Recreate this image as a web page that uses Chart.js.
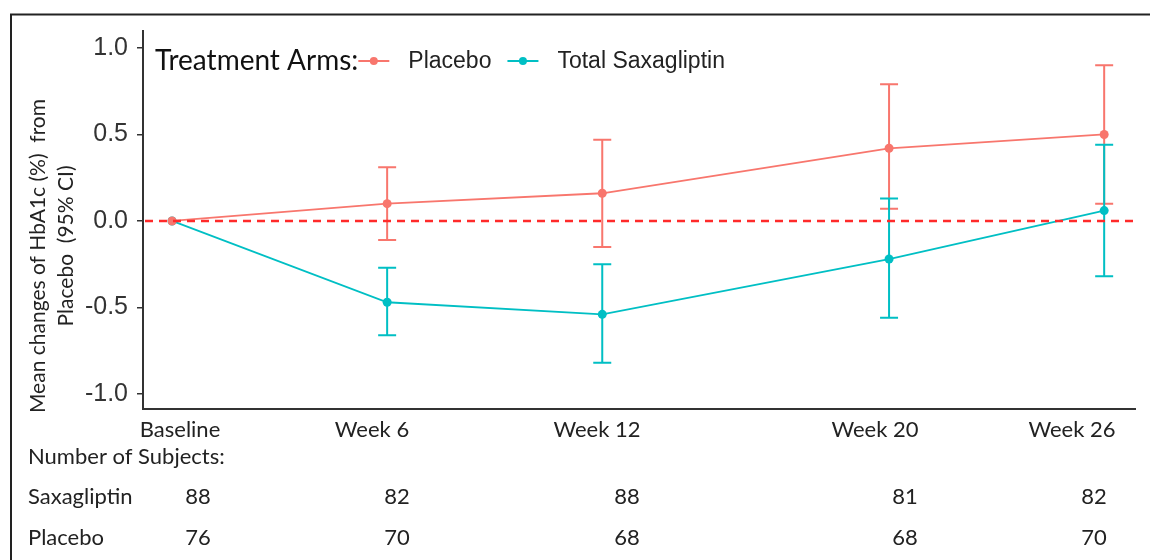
<!DOCTYPE html>
<html>
<head>
<meta charset="utf-8">
<script src="https://cdn.jsdelivr.net/npm/chart.js@4.4.1/dist/chart.umd.min.js"></script>
<style>
  html, body { margin: 0; padding: 0; background: #fff; }
  #wrap { width: 1162px; height: 560px; position: relative; }
</style>
</head>
<body>
<div id="wrap"><canvas id="hba1cChart"></canvas></div>
<script>
// --- data ---
const weeks = [0, 6, 12, 20, 26];
const weekLabels = ['Baseline', 'Week 6', 'Week 12', 'Week 20', 'Week 26'];

const placeboMean  = [0, 0.10, 0.16, 0.42, 0.50];
const placeboLower = [null, -0.11, -0.15, 0.07, 0.10];
const placeboUpper = [null, 0.31, 0.47, 0.79, 0.90];

const saxaMean  = [0, -0.47, -0.54, -0.22, 0.06];
const saxaLower = [null, -0.66, -0.82, -0.56, -0.32];
const saxaUpper = [null, -0.27, -0.25, 0.13, 0.44];

const saxaN    = [88, 82, 88, 81, 82];
const placeboN = [76, 70, 68, 68, 70];

const yTicks = [-1, -0.5, 0, 0.5, 1];
const yTitle = ['Mean changes of HbA1c (%)  from', 'Placebo  (95% CI)'];

const RED = '#F8766D';
const CYAN = '#00BFC4';
const CALIBRI = 'Lato, "Open Sans", sans-serif';
const ARIAL = '"Liberation Sans", Arial, sans-serif';

// --- layout (pixels) for texts outside the plot ---
const labelCols = [180, 372, 597, 875, 1072];
const numberCols = [198, 397, 627, 905, 1094];
const titlePos = [{ x: 38, y: 256 }, { x: 66, y: 246 }];

const toPoints = vals => weeks.map((w, i) => ({ x: w, y: vals[i] }));

// error bars from the scales
const errorBars = {
  id: 'errorBars',
  beforeDatasetsDraw(chart) {
    const { ctx, scales: { x, y } } = chart;
    chart.data.datasets.forEach(ds => {
      ctx.save();
      ctx.strokeStyle = ds.borderColor;
      ctx.lineWidth = 2;
      weeks.forEach((w, i) => {
        if (ds.lower[i] == null) return;
        const px = x.getPixelForValue(w);
        const y1 = y.getPixelForValue(ds.lower[i]);
        const y2 = y.getPixelForValue(ds.upper[i]);
        ctx.beginPath();
        ctx.moveTo(px, y1); ctx.lineTo(px, y2);
        ctx.moveTo(px - 9, y1); ctx.lineTo(px + 9, y1);
        ctx.moveTo(px - 9, y2); ctx.lineTo(px + 9, y2);
        ctx.stroke();
      });
      ctx.restore();
    });
  }
};

// dashed reference line at 0
const zeroLine = {
  id: 'zeroLine',
  afterDatasetsDraw(chart) {
    const { ctx, chartArea, scales: { y } } = chart;
    const py = y.getPixelForValue(0);
    ctx.save();
    ctx.strokeStyle = '#FF2A2A';
    ctx.lineWidth = 2.5;
    ctx.setLineDash([8, 6]);
    ctx.beginPath();
    ctx.moveTo(chartArea.left + 2, py);
    ctx.lineTo(chartArea.right, py);
    ctx.stroke();
    ctx.restore();
  }
};

// legend in the top-left of the plot
const armsLegend = {
  id: 'armsLegend',
  afterDraw(chart) {
    const { ctx } = chart;
    const cy = 61;
    let cx = 155;
    ctx.save();
    ctx.textBaseline = 'middle';
    ctx.textAlign = 'left';
    ctx.fillStyle = '#111';
    ctx.font = '28px ' + CALIBRI;
    ctx.fillText('Treatment Arms:', cx, cy);
    cx += ctx.measureText('Treatment Arms:').width;
    chart.data.datasets.forEach(ds => {
      ctx.strokeStyle = ds.borderColor;
      ctx.fillStyle = ds.borderColor;
      ctx.lineWidth = 2;
      ctx.beginPath();
      ctx.moveTo(cx, cy); ctx.lineTo(cx + 31, cy);
      ctx.stroke();
      ctx.beginPath();
      ctx.arc(cx + 15.5, cy, 4, 0, Math.PI * 2);
      ctx.fill();
      cx += 50;
      ctx.fillStyle = '#222';
      ctx.font = '23px ' + ARIAL;
      ctx.fillText(ds.label, cx, cy + 1);
      cx += ctx.measureText(ds.label).width + 16;
    });
    ctx.restore();
  }
};

// y-axis title, week labels, subject table and outer frame
const subjectTable = {
  id: 'subjectTable',
  afterDraw(chart) {
    const { ctx } = chart;
    ctx.save();
    ctx.fillStyle = '#222';
    ctx.textBaseline = 'middle';
    ctx.textAlign = 'center';
    ctx.font = '21px ' + CALIBRI;
    yTitle.forEach((t, i) => {
      ctx.save();
      ctx.translate(titlePos[i].x, titlePos[i].y);
      ctx.rotate(-Math.PI / 2);
      ctx.fillText(t, 0, 0);
      ctx.restore();
    });

    ctx.font = '22px ' + CALIBRI;
    weekLabels.forEach((t, i) => ctx.fillText(t, labelCols[i], 430));
    ctx.textAlign = 'left';
    ctx.fillText('Number of Subjects:', 28, 457);
    ctx.fillText('Saxagliptin', 28, 497);
    ctx.fillText('Placebo', 28, 538);
    ctx.textAlign = 'center';
    saxaN.forEach((n, i) => ctx.fillText(String(n), numberCols[i], 497));
    placeboN.forEach((n, i) => ctx.fillText(String(n), numberCols[i], 538));

    ctx.strokeStyle = '#222';
    ctx.lineWidth = 2;
    ctx.beginPath();
    ctx.moveTo(11, 560); ctx.lineTo(11, 14.5); ctx.lineTo(1150, 14.5);
    ctx.stroke();
    ctx.restore();
  }
};

const ctx = document.getElementById('hba1cChart').getContext('2d');
const myChart = new Chart(ctx, {
  type: 'line',
  data: {
    datasets: [
      { label: 'Placebo', data: toPoints(placeboMean), lower: placeboLower, upper: placeboUpper,
        borderColor: RED, backgroundColor: RED, pointBackgroundColor: RED, pointBorderWidth: 0,
        borderWidth: 1.8, pointRadius: 4.5, tension: 0 },
      { label: 'Total Saxagliptin', data: toPoints(saxaMean), lower: saxaLower, upper: saxaUpper,
        borderColor: CYAN, backgroundColor: CYAN, pointBackgroundColor: CYAN, pointBorderWidth: 0,
        borderWidth: 1.8, pointRadius: 4.5, tension: 0 }
    ]
  },
  options: {
    responsive: true,
    maintainAspectRatio: false,
    animation: false,
    layout: { padding: { left: 0, top: 31, right: 27, bottom: 0 } },
    plugins: { legend: { display: false }, tooltip: { enabled: false } },
    scales: {
      x: {
        type: 'linear', min: -0.81, max: 26.86,
        afterBuildTicks: s => { s.ticks = weeks.map(v => ({ value: v })); },
        afterFit: s => { s.height = 151; },
        ticks: { display: false },
        grid: { display: true, drawOnChartArea: false, drawTicks: false },
        border: { display: true, color: '#333', width: 2 }
      },
      y: {
        min: -1.087, max: 1.098,
        afterBuildTicks: s => { s.ticks = yTicks.map(v => ({ value: v })); },
        afterFit: s => { s.width = 143; },
        ticks: { padding: 9, color: '#333', font: { family: ARIAL, size: 25 },
                 callback: v => v.toFixed(1) },
        grid: { drawOnChartArea: false, drawTicks: true, tickLength: 6, color: '#333', lineWidth: 1.5 },
        border: { display: true, color: '#333', width: 2 }
      }
    }
  },
  plugins: [errorBars, zeroLine, armsLegend, subjectTable]
});
</script>
</body>
</html>
